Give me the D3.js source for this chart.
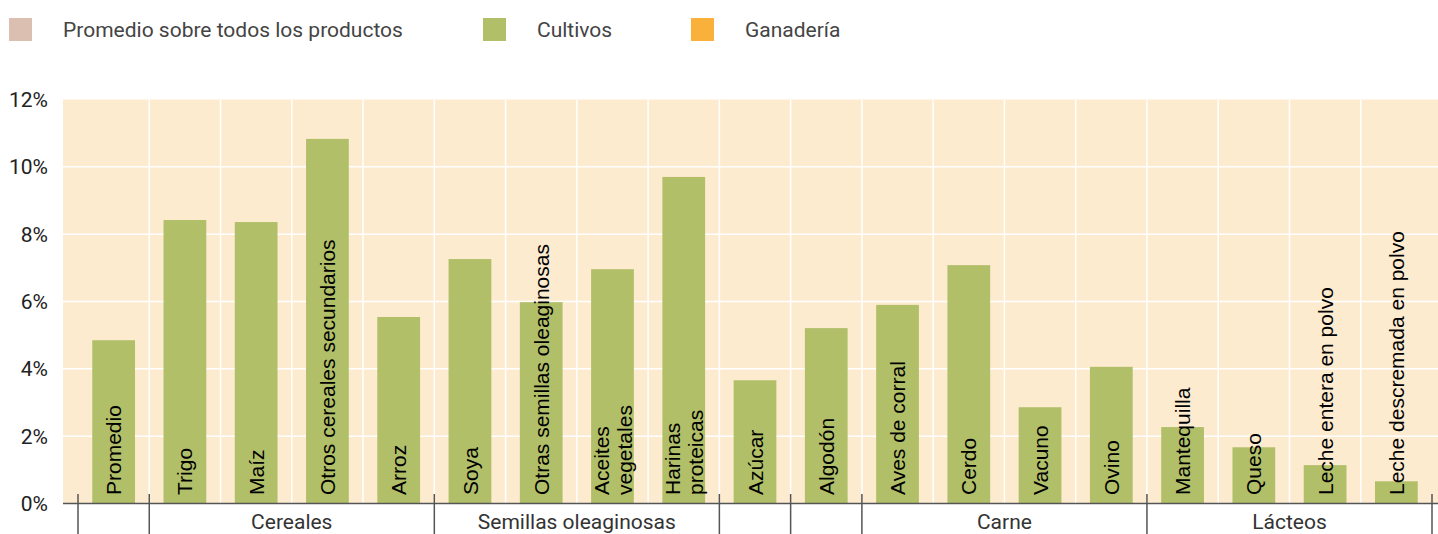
<!DOCTYPE html>
<html>
<head>
<meta charset="utf-8">
<script src="https://cdn.jsdelivr.net/npm/d3@7"></script>
<style>
  body { margin: 0; background: #fff; }
  svg { display: block; }
</style>
</head>
<body>
<div id="chart"></div>
<script>
// Data
var productos = ["Promedio", "Trigo", "Maíz", "Otros cereales secundarios", "Arroz",
    "Soya", "Otras semillas oleaginosas", "Aceites|vegetales", "Harinas|proteicas",
    "Azúcar", "Algodón", "Aves de corral", "Cerdo", "Vacuno", "Ovino",
    "Mantequilla", "Queso", "Leche entera en polvo", "Leche descremada en polvo"];
var valores = [4.85, 8.42, 8.36, 10.83, 5.54, 7.26, 5.98, 6.96, 9.70, 3.66, 5.21,
    5.90, 7.08, 2.86, 4.06, 2.27, 1.67, 1.14, 0.66];
var grupos = ["", "Cereales", "Semillas oleaginosas", "", "", "Carne", "Lácteos"];
var gruposInicio = [0, 1, 5, 9, 10, 11, 15];
var gruposFin = [1, 5, 9, 10, 11, 15, 19];
var yTicks = [0, 2, 4, 6, 8, 10, 12];
var leyenda = ["Promedio sobre todos los productos", "Cultivos", "Ganadería"];
var leyendaColores = ["#dbbfb0", "#b2bf69", "#f9b13b"];

var width = 1438, height = 534;
var plotLeft = 63, plotTop = 99.5, plotBottom = 503.5;

var svg = d3.select("#chart").append("svg")
    .attr("width", width)
    .attr("height", height);

var x = d3.scaleBand()
    .domain(d3.range(productos.length))
    .range([78, 1432])
    .paddingInner(0.4)
    .paddingOuter(0.2);

var step = x.step();
function edge(i) { return 78 + i * step; }

var y = d3.scaleLinear()
    .domain([0, 12])
    .range([plotBottom, plotTop]);

// Plot background
svg.append("rect")
    .attr("x", plotLeft)
    .attr("y", plotTop)
    .attr("width", width - plotLeft)
    .attr("height", plotBottom - plotTop)
    .attr("fill", "#fdebd0");

// Horizontal grid
svg.append("g")
    .selectAll("line")
    .data(yTicks.slice(1, -1))
    .enter()
    .append("line")
    .attr("x1", plotLeft)
    .attr("x2", width)
    .attr("y1", function (d) { return y(d); })
    .attr("y2", function (d) { return y(d); })
    .attr("stroke", "#fff")
    .attr("stroke-width", 1.5);

// Vertical grid at band edges
svg.append("g")
    .selectAll("line")
    .data(d3.range(1, productos.length))
    .enter()
    .append("line")
    .attr("x1", function (d) { return edge(d); })
    .attr("x2", function (d) { return edge(d); })
    .attr("y1", plotTop)
    .attr("y2", plotBottom)
    .attr("stroke", "#fff")
    .attr("stroke-width", 1.5);

// Bars
svg.append("g")
    .selectAll("rect")
    .data(valores)
    .enter()
    .append("rect")
    .attr("x", function (d, i) { return x(i); })
    .attr("width", x.bandwidth())
    .attr("y", function (d) { return y(d); })
    .attr("height", function (d) { return y(0) - y(d); })
    .attr("fill", "#b2bf69");

// Bar labels (rotated)
var labels = svg.append("g")
    .style("font-family", "'Liberation Sans', Arial, sans-serif")
    .style("font-size", "21px")
    .style("fill", "#000");

productos.forEach(function (p, i) {
    var lines = p.split("|");
    var cx = x(i) + x.bandwidth() / 2;
    var t = labels.append("text")
        .attr("transform", "translate(" + cx + "," + 495 + ") rotate(-90)")
        .attr("text-anchor", "start");
    lines.forEach(function (l, j) {
        var off = (j - (lines.length - 1) / 2) * 23;
        t.append("tspan")
            .attr("x", 0)
            .attr("y", off)
            .attr("dy", "0.36em")
            .text(l);
    });
});

// Y axis labels
svg.append("g")
    .selectAll("text")
    .data(yTicks)
    .enter()
    .append("text")
    .attr("x", 48)
    .attr("y", function (d) { return y(d); })
    .attr("dy", "0.36em")
    .attr("text-anchor", "end")
    .style("font-family", "Roboto, sans-serif")
    .style("font-size", "21px")
    .style("fill", "#222")
    .text(function (d) { return d + "%"; });

// Baseline
svg.append("line")
    .attr("x1", plotLeft)
    .attr("x2", width)
    .attr("y1", plotBottom)
    .attr("y2", plotBottom)
    .attr("stroke", "#555")
    .attr("stroke-width", 1.5);

// Group separators
var sepIdx = gruposInicio.concat([productos.length]);
svg.append("g")
    .selectAll("line")
    .data(sepIdx)
    .enter()
    .append("line")
    .attr("x1", function (d) { return edge(d); })
    .attr("x2", function (d) { return edge(d); })
    .attr("y1", 494)
    .attr("y2", height)
    .attr("stroke", "#555")
    .attr("stroke-width", 1.5);

// Group labels
svg.append("g")
    .selectAll("text")
    .data(grupos)
    .enter()
    .append("text")
    .attr("x", function (d, i) { return (edge(gruposInicio[i]) + edge(gruposFin[i])) / 2; })
    .attr("y", 529)
    .attr("text-anchor", "middle")
    .style("font-family", "Roboto, sans-serif")
    .style("font-size", "21px")
    .style("fill", "#333")
    .text(function (d) { return d; });

// Legend
var legX = [9, 483, 691];
var leg = svg.append("g");
leyenda.forEach(function (l, i) {
    leg.append("rect")
        .attr("x", legX[i])
        .attr("y", 18)
        .attr("width", 23)
        .attr("height", 23)
        .attr("fill", leyendaColores[i]);
    leg.append("text")
        .attr("x", legX[i] + 54)
        .attr("y", 37)
        .style("font-family", "Roboto, sans-serif")
        .style("font-size", "21px")
        .style("fill", "#444")
        .text(l);
});
</script>
</body>
</html>
